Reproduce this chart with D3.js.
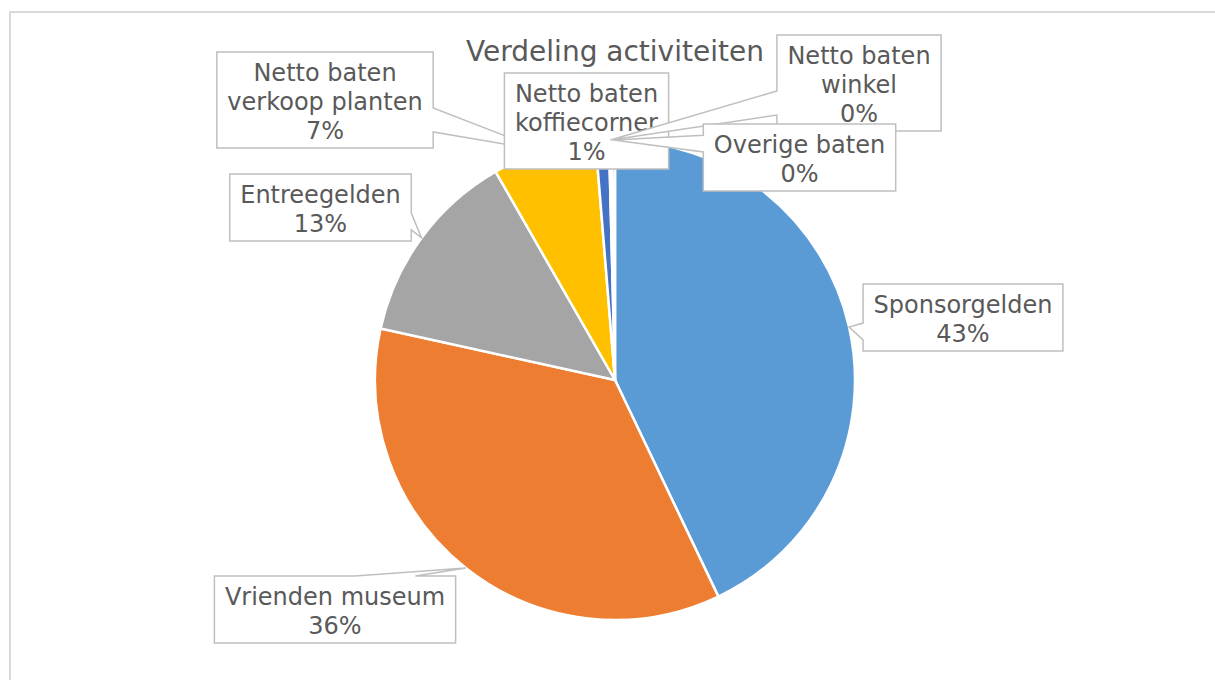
<!DOCTYPE html>
<html>
<head>
<meta charset="utf-8">
<script src="https://cdn.jsdelivr.net/npm/d3@7"></script>
<style>
  body { margin: 0; background: #fff; }
  text { font-family: Verdana, "DejaVu Sans", sans-serif; fill: #595959; }
</style>
</head>
<body>
<svg id="pie" width="1215" height="680"></svg>
<script>
// data
const categories = ["Sponsorgelden", "Vrienden museum", "Entreegelden",
  "Netto baten verkoop planten", "Netto baten koffiecorner",
  "Netto baten winkel", "Overige baten"];
const values = [43.0, 35.6, 13.3, 7.0, 0.9, 0.2, 0.2];
// label text split in lines as Excel wraps them
const labelLines = [["Sponsorgelden"], ["Vrienden museum"], ["Entreegelden"],
  ["Netto baten", "verkoop planten"], ["Netto baten", "koffiecorner"],
  ["Netto baten", "winkel"], ["Overige baten"]];
const colors = ["#5B9BD5", "#ED7D31", "#A5A5A5", "#FFC000", "#4472C4", "#70AD47", "#264478"];

// where the label boxes sit (centre x, top y)
const labelPos = [[963, 284], [335, 576], [320.5, 174], [325, 52], [586.5, 73], [859, 35], [799.5, 124]];

const svg = d3.select("svg#pie");
const cx = 615, cy = 380, radius = 240;
const lineH = 29;

// chart frame
svg.append("rect")
  .attr("x", 10).attr("y", 12)
  .attr("width", 1240).attr("height", 700)
  .attr("fill", "#fff")
  .attr("stroke", "#d9d9d9")
  .attr("stroke-width", 2);

svg.append("text")
  .attr("x", cx).attr("y", 61)
  .attr("text-anchor", "middle")
  .style("font-size", "28px")
  .text("Verdeling activiteiten");

const total = d3.sum(values);
const slices = d3.pie().sort(null).value(d => d)(values);
const arcGen = d3.arc().innerRadius(0).outerRadius(radius);
const tipArc = d3.arc().innerRadius(radius).outerRadius(radius);

const pieG = svg.append("g").attr("transform", `translate(${cx},${cy})`);
pieG.selectAll("path").data(slices)
  .join("path")
  .attr("d", arcGen)
  .attr("fill", (d, i) => colors[i])
  .attr("stroke", "#fff")
  .attr("stroke-width", 2.5)
  .attr("stroke-linejoin", "round");

// wedge callout like Excel's wedgeRectCallout
function calloutPath(x, y, w, h, tx, ty) {
  const r = x + w, b = y + h;
  if (tx >= x && tx <= r && ty >= y && ty <= b) {
    return `M${x},${y}H${r}V${b}H${x}Z`;
  }
  const dx = tx - (x + w / 2), dy = ty - (y + h / 2);
  const dq = dx * h / w;
  const dz = Math.abs(dy) - Math.abs(dq);
  const x1 = x + w * (dx > 0 ? 7 : 2) / 12, x2 = x + w * (dx > 0 ? 10 : 5) / 12;
  const y1 = y + h * (dy > 0 ? 7 : 2) / 12, y2 = y + h * (dy > 0 ? 10 : 5) / 12;
  let side;
  if (dz > 0) side = dy < 0 ? "top" : "bottom";
  else side = dx < 0 ? "left" : "right";
  let p = `M${x},${y}`;
  if (side == "top") p += `L${x1},${y}L${tx},${ty}L${x2},${y}`;
  p += `L${r},${y}`;
  if (side == "right") p += `L${r},${y1}L${tx},${ty}L${r},${y2}`;
  p += `L${r},${b}`;
  if (side == "bottom") p += `L${x2},${b}L${tx},${ty}L${x1},${b}`;
  p += `L${x},${b}`;
  if (side == "left") p += `L${x},${y2}L${tx},${ty}L${x},${y1}`;
  return p + "Z";
}

const labelG = svg.append("g");
slices.forEach((s, i) => {
  const lines = labelLines[i].concat([Math.round(values[i] / total * 100) + "%"]);
  const g = labelG.append("g");
  const txt = g.append("text")
    .attr("text-anchor", "middle")
    .style("font-size", "24px");
  lines.forEach((l, j) => {
    txt.append("tspan")
      .attr("x", labelPos[i][0])
      .attr("y", labelPos[i][1] + 28.5 + j * lineH)
      .text(l);
  });
  let w = 0;
  txt.selectAll("tspan").each(function() { w = Math.max(w, this.getComputedTextLength()); });
  w += 21;
  const h = lines.length * lineH + 9;
  const bx = labelPos[i][0] - w / 2, by = labelPos[i][1];
  const tip = tipArc.centroid(s);
  g.insert("path", "text")
    .attr("d", calloutPath(bx, by, w, h, cx + tip[0], cy + tip[1]))
    .attr("fill", "#fff")
    .attr("stroke", "#bfbfbf")
    .attr("stroke-width", 1.5);
});
</script>
</body>
</html>
